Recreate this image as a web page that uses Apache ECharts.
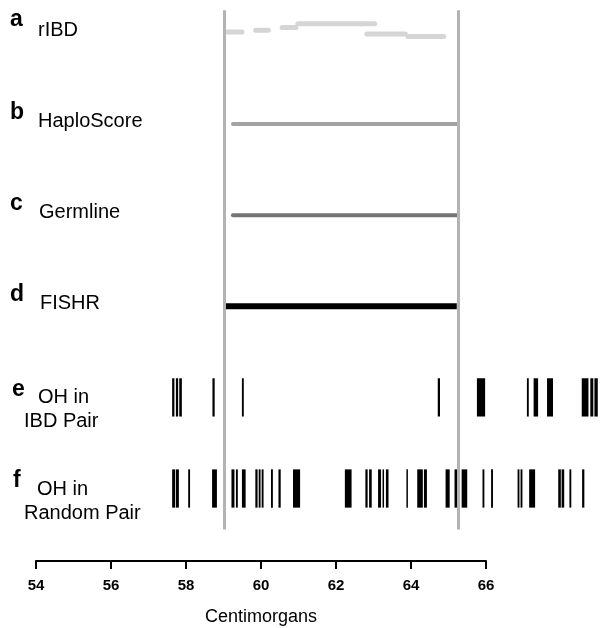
<!DOCTYPE html>
<html>
<head>
<meta charset="utf-8">
<script src="https://cdn.jsdelivr.net/npm/echarts@6/dist/echarts.min.js"></script>
<style>
  html, body { margin: 0; padding: 0; background: #fff; }
  #ibd-tracks { width: 603px; height: 628px; }
</style>
</head>
<body>
<div id="ibd-tracks"></div>
<script>
// track labels (letter + name), one per row
const rowLetters = ['a', 'b', 'c', 'd', 'e', 'f']
const rowNames = ['rIBD', 'HaploScore', 'Germline', 'FISHR', 'OH in\nIBD Pair', 'OH in\nRandom Pair']

// segments: [start cM, end cM, row position]
const rIBD = [
  [59.12, 59.52, -0.01],
  [59.89, 60.23, -0.03],
  [60.60, 60.97, -0.06],
  [61.02, 63.08, -0.10],
  [62.87, 63.90, 0.01],
  [63.97, 64.93, 0.04]
]
const haploScore = [[59.28, 65.28, 1]]
const germline = [[59.28, 65.30, 2]]
const fishr = [[59.06, 65.28, 3]]

// opposite homozygote markers: [start cM, end cM, row]
const ohIBD = [
  [57.65, 57.71, 4], [57.75, 57.81, 4], [57.84, 57.91, 4],
  [58.73, 58.79, 4], [59.52, 59.57, 4],
  [64.77, 64.83, 4], [65.29, 65.34, 4], [65.82, 66.04, 4],
  [67.16, 67.21, 4], [67.34, 67.46, 4], [67.70, 67.86, 4],
  [68.63, 68.81, 4], [68.86, 68.94, 4], [68.97, 69.06, 4]
]
const ohRandom = [
  [57.65, 57.73, 5], [57.75, 57.83, 5], [58.08, 58.13, 5], [58.72, 58.85, 5],
  [59.24, 59.32, 5], [59.36, 59.41, 5], [59.52, 59.62, 5],
  [59.88, 59.94, 5], [59.97, 60.02, 5], [60.05, 60.10, 5],
  [60.30, 60.35, 5], [60.50, 60.56, 5], [60.89, 61.08, 5],
  [62.28, 62.46, 5], [62.83, 62.89, 5], [62.93, 63.00, 5],
  [63.17, 63.25, 5], [63.29, 63.33, 5], [63.38, 63.45, 5],
  [63.93, 63.97, 5], [64.22, 64.37, 5], [64.40, 64.48, 5],
  [64.98, 65.09, 5], [65.22, 65.31, 5], [65.41, 65.56, 5],
  [65.97, 66.02, 5], [66.20, 66.25, 5], [66.91, 66.96, 5],
  [66.99, 67.04, 5], [67.22, 67.38, 5], [68.00, 68.07, 5],
  [68.09, 68.16, 5], [68.30, 68.35, 5], [68.64, 68.70, 5]
]
// boundaries of the true IBD segment
const boundaries = [59.04, 65.32]
const xTicks = { min: 54, max: 66, step: 2 }

const font = '"Liberation Sans", Arial, Helvetica, sans-serif'

function segmentSeries(name, data, color, width, cap) {
  return {
    name: name,
    type: 'custom',
    xAxisIndex: 0,
    yAxisIndex: 0,
    silent: true,
    clip: false,
    z: 3,
    data: data,
    renderItem: function (params, api) {
      const p1 = api.coord([api.value(0), api.value(2)])
      const p2 = api.coord([api.value(1), api.value(2)])
      return {
        type: 'line',
        shape: { x1: p1[0], y1: p1[1], x2: p2[0], y2: p2[1] },
        style: { stroke: color, lineWidth: width, lineCap: cap }
      }
    }
  }
}

function barSeries(name, data) {
  return {
    name: name,
    type: 'custom',
    xAxisIndex: 0,
    yAxisIndex: 0,
    silent: true,
    clip: false,
    z: 4,
    data: data,
    renderItem: function (params, api) {
      const p1 = api.coord([api.value(0), api.value(2) - 0.21])
      const p2 = api.coord([api.value(1), api.value(2) + 0.21])
      return {
        type: 'rect',
        shape: { x: p1[0], y: p1[1], width: p2[0] - p1[0], height: p2[1] - p1[1] },
        style: { fill: '#000' }
      }
    }
  }
}

// label positions on the left
const letterY = [20, 113, 204, 295, 390, 481]
const letterX = [10, 10, 10, 10, 12, 13]
const nameY = [30, 121, 212, 303, 397, 489]
const nameX = [38, 38, 39, 40, 38, 37]

const graphics = []
rowLetters.forEach((l, i) => {
  graphics.push({
    type: 'text', x: letterX[i], y: letterY[i], silent: true,
    style: { text: l, font: 'bold 23px ' + font, fill: '#000', verticalAlign: 'middle' }
  })
})
rowNames.forEach((n, i) => {
  const lines = n.split('\n')
  graphics.push({
    type: 'text', x: nameX[i], y: nameY[i], silent: true,
    style: { text: lines[0], font: '20px ' + font, fill: '#000', verticalAlign: 'middle' }
  })
  if (lines[1]) {
    graphics.push({
      type: 'text', x: 24, y: nameY[i] + 24, silent: true,
      style: { text: lines[1], font: '20px ' + font, fill: '#000', verticalAlign: 'middle' }
    })
  }
})

const myChart = echarts.init(document.getElementById('ibd-tracks'))
myChart.setOption({
  animation: false,
  backgroundColor: '#fff',
  grid: [
    { left: 36, top: 10.2, width: 570, height: 519.3 },
    { left: 36, top: 540, width: 450, height: 21 }
  ],
  xAxis: [
    { gridIndex: 0, type: 'value', min: 54, max: 69.2, show: false },
    {
      gridIndex: 1,
      type: 'value',
      min: xTicks.min,
      max: xTicks.max,
      interval: xTicks.step,
      name: 'Centimorgans',
      nameLocation: 'middle',
      nameGap: 47,
      nameTextStyle: { fontSize: 18, color: '#000', fontFamily: font },
      axisLine: { show: true, lineStyle: { color: '#000', width: 2 } },
      axisTick: { show: true, length: 8, lineStyle: { color: '#000', width: 2 } },
      axisLabel: { margin: 17, fontSize: 15, fontWeight: 'bold', color: '#000', fontFamily: font },
      splitLine: { show: false }
    }
  ],
  yAxis: [
    { gridIndex: 0, type: 'value', inverse: true, min: -0.25, max: 5.45, show: false },
    { gridIndex: 1, type: 'value', min: 0, max: 1, show: false }
  ],
  graphic: graphics,
  series: [
    {
      name: 'boundaries',
      type: 'scatter',
      xAxisIndex: 0,
      yAxisIndex: 0,
      data: [],
      z: 1,
      markLine: {
        silent: true,
        symbol: 'none',
        label: { show: false },
        lineStyle: { color: '#b3b3b3', width: 3, type: 'solid' },
        data: boundaries.map(v => ({ xAxis: v }))
      }
    },
    segmentSeries('rIBD', rIBD, '#d5d5d5', 5, 'round'),
    segmentSeries('HaploScore', haploScore, '#a3a3a3', 4, 'round'),
    segmentSeries('Germline', germline, '#747474', 4, 'round'),
    segmentSeries('FISHR', fishr, '#000', 6, 'butt'),
    barSeries('OH in IBD Pair', ohIBD),
    barSeries('OH in Random Pair', ohRandom),
    { type: 'scatter', xAxisIndex: 1, yAxisIndex: 1, data: [] }
  ]
})
</script>
</body>
</html>
